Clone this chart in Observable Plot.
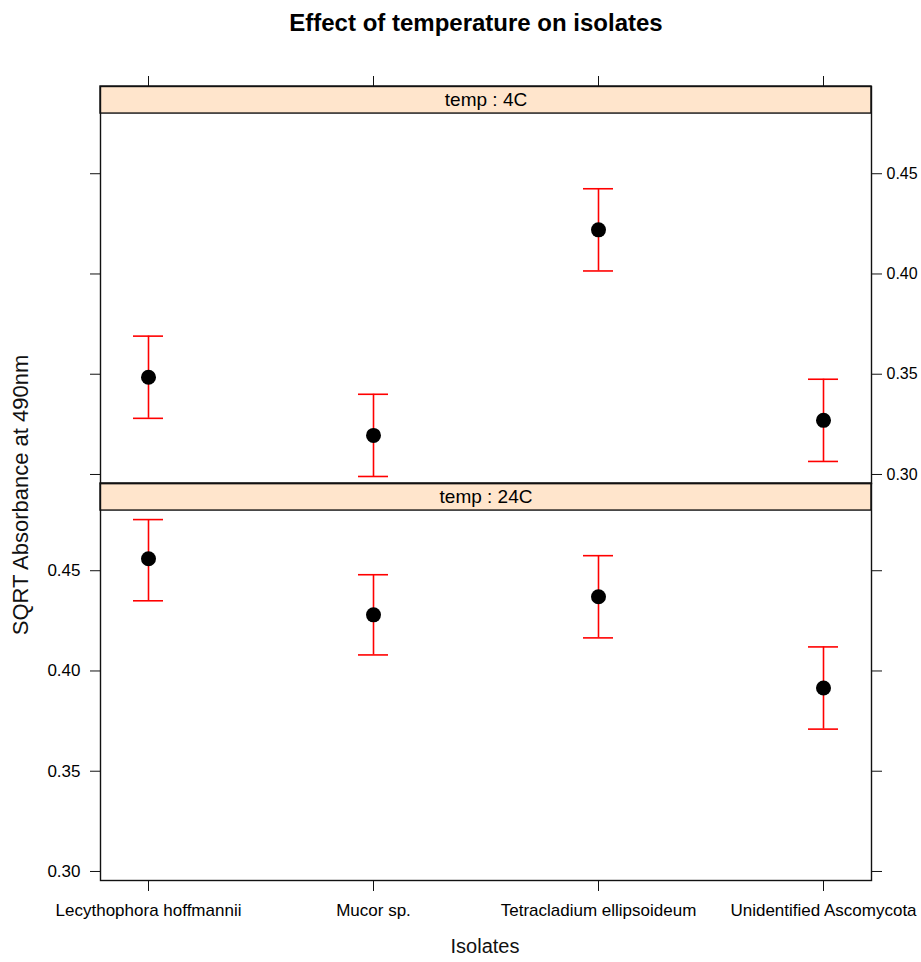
<!DOCTYPE html>
<html>
<head>
<meta charset="utf-8">
<script src="https://cdn.jsdelivr.net/npm/d3@7"></script>
<script src="https://cdn.jsdelivr.net/npm/@observablehq/plot@0.6"></script>
<style>
  html, body { margin: 0; padding: 0; background: #fff; }
  #wrap { position: relative; width: 921px; height: 962px; overflow: hidden; font-family: "Liberation Sans", Arial, sans-serif; }
  #title { position: absolute; left: 0; top: 11px; width: 921px; padding-left: 31px; box-sizing: border-box; text-align: center; font-weight: bold; font-size: 24px; line-height: 1; color: #000; }
  #chart { position: absolute; left: 0; top: 44px; }
  #ylab { position: absolute; left: 21px; top: 495px; transform: translate(-50%, -50%) rotate(-90deg); white-space: nowrap; font-size: 22px; line-height: 1; color: #111; }
  #xlab { position: absolute; left: 485px; top: 936px; transform: translateX(-50%); white-space: nowrap; font-size: 20px; line-height: 1; color: #111; }
</style>
</head>
<body>
<div id="wrap">
  <div id="title">Effect of temperature on isolates</div>
  <div id="chart"></div>
  <div id="ylab">SQRT Absorbance at 490nm</div>
  <div id="xlab">Isolates</div>
</div>
<script>
// ---- data ----
const isolates = ["Lecythophora hoffmannii", "Mucor sp.", "Tetracladium ellipsoideum", "Unidentified Ascomycota"];
const temps = ["4C", "24C"];
const mean4C  = [0.3485, 0.3195, 0.4220, 0.3270];
const lo4C    = [0.3280, 0.2990, 0.4015, 0.3065];
const hi4C    = [0.3690, 0.3400, 0.4425, 0.3475];
const mean24C = [0.4560, 0.4280, 0.4370, 0.3915];
const lo24C   = [0.4350, 0.4080, 0.4165, 0.3710];
const hi24C   = [0.4755, 0.4480, 0.4575, 0.4120];
const yTicks  = [0.30, 0.35, 0.40, 0.45];

// ---- table for the library ----
const rows = [];
isolates.forEach((iso, i) => {
  rows.push({temp: "4C", isolate: iso, mean: mean4C[i], lo: lo4C[i], hi: hi4C[i]});
  rows.push({temp: "24C", isolate: iso, mean: mean24C[i], lo: lo24C[i], hi: hi24C[i]});
});

// layout: y domain of each panel (data region + strip on top)
const yLo = 0.2955, yDataHi = 0.4800, yHi = 0.4935;
const stripMid = (yDataHi + yHi) / 2;

const chart = Plot.plot({
  width: 921,
  height: 918,
  marginTop: 42,
  marginBottom: 82,
  marginLeft: 100,
  marginRight: 50,
  style: {fontFamily: "'Liberation Sans', Arial, sans-serif", fontSize: "17px", background: "transparent", color: "#000", overflow: "visible"},
  x: {type: "band", domain: isolates, paddingInner: 0.8668, paddingOuter: 0.1444, align: 0.5},
  y: {domain: [yLo, yHi]},
  fy: {domain: temps, padding: 0, axis: null},
  marks: [
    // strips
    Plot.rect(temps, {fy: d => d, y1: () => yDataHi, y2: () => yHi, fill: "#ffe5cc", stroke: "#111", strokeWidth: 1.4}),
    Plot.text(temps, {fy: d => d, y: () => stripMid, text: d => "temp : " + d, fontSize: 19, fill: "#000"}),
    // panel borders
    Plot.frame({stroke: "#111", strokeWidth: 1.4}),
    // axes
    Plot.axisX({anchor: "top", facetAnchor: "top", tickSize: 11, tickFormat: () => "", label: null, stroke: "#111"}),
    Plot.axisX({anchor: "bottom", facetAnchor: "bottom", tickSize: 11, tickPadding: 12, label: null, stroke: "#111", fontSize: 17}),
    Plot.axisY({anchor: "left", facetAnchor: "top", ticks: yTicks, tickSize: 10, tickFormat: () => "", label: null, stroke: "#111"}),
    Plot.axisY({anchor: "right", facetAnchor: "top", ticks: yTicks, tickSize: 10, tickPadding: 5, tickFormat: d3.format(".2f"), label: null, stroke: "#111", fontSize: 16}),
    Plot.axisY({anchor: "left", facetAnchor: "bottom", ticks: yTicks, tickSize: 10, tickPadding: 10, tickFormat: d3.format(".2f"), label: null, stroke: "#111", fontSize: 17}),
    Plot.axisY({anchor: "right", facetAnchor: "bottom", ticks: yTicks, tickSize: 10, tickFormat: () => "", label: null, stroke: "#111"}),
    // error bars
    Plot.ruleX(rows, {x: "isolate", y1: "lo", y2: "hi", fy: "temp", stroke: "#ff0000", strokeWidth: 1.6}),
    Plot.tickY(rows, {x: "isolate", y: "lo", fy: "temp", stroke: "#ff0000", strokeWidth: 1.6}),
    Plot.tickY(rows, {x: "isolate", y: "hi", fy: "temp", stroke: "#ff0000", strokeWidth: 1.6}),
    // means
    Plot.dot(rows, {x: "isolate", y: "mean", fy: "temp", r: 7.5, fill: "#000", stroke: "none"})
  ]
});
document.getElementById("chart").appendChild(chart);
</script>
</body>
</html>
